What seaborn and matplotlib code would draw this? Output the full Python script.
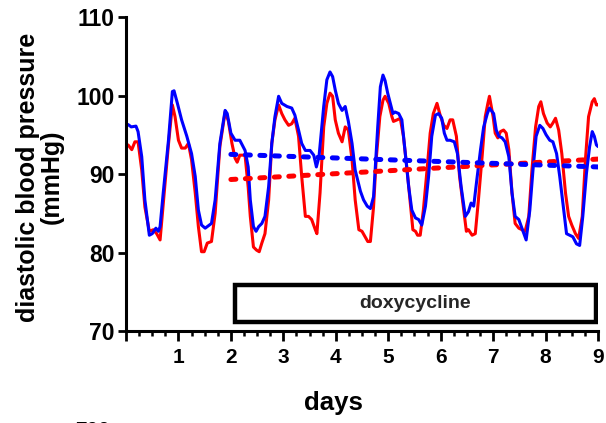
import matplotlib
matplotlib.use("Agg")
import matplotlib.pyplot as plt
from matplotlib.patches import Rectangle
from matplotlib.ticker import MultipleLocator, FixedLocator
import numpy as np
import pandas as pd
import seaborn as sns

# ---- data ----
red_days = [0.04, 0.11, 0.17, 0.23, 0.30, 0.36, 0.445, 0.52, 0.585, 0.65, 0.71, 0.81, 0.884, 0.935,
            1.00, 1.06, 1.13, 1.19, 1.25, 1.32, 1.38, 1.44, 1.49, 1.55, 1.63, 1.70, 1.79, 1.89, 1.95,
            2.02, 2.08, 2.12, 2.17, 2.27, 2.33, 2.37, 2.43, 2.49, 2.54, 2.59, 2.65, 2.72, 2.78, 2.84, 2.91, 2.97,
            3.03, 3.10, 3.16, 3.22, 3.29, 3.35, 3.42, 3.48, 3.54, 3.61, 3.64, 3.70, 3.77, 3.83, 3.89, 3.94, 3.99,
            4.05, 4.12, 4.18, 4.24, 4.31, 4.37, 4.44, 4.50, 4.56, 4.61, 4.66, 4.72, 4.77, 4.84, 4.90, 4.94,
            5.01, 5.07, 5.10, 5.17, 5.23, 5.29, 5.36, 5.42, 5.47, 5.52, 5.56, 5.61, 5.67, 5.74, 5.80, 5.86, 5.93, 5.99,
            6.06, 6.12, 6.18, 6.23, 6.30, 6.36, 6.44, 6.49, 6.53, 6.60, 6.66, 6.72, 6.79, 6.85, 6.90, 6.93,
            7.00, 7.04, 7.09, 7.14, 7.20, 7.25, 7.30, 7.36, 7.42, 7.49, 7.55, 7.61, 7.68, 7.74, 7.81, 7.87, 7.91, 7.96,
            8.03, 8.09, 8.14, 8.19, 8.25, 8.31, 8.38, 8.44, 8.50, 8.57, 8.63, 8.70, 8.76, 8.82, 8.89, 8.93, 8.97, 9.00]
red_bp = [93.7, 93.1, 94.1, 94.1, 90.5, 85.8, 82.7, 82.9, 82.4, 81.6, 86.2, 93.8, 98.8, 97.3,
          94.3, 93.3, 93.3, 93.9, 91.8, 87.6, 83.3, 80.1, 80.1, 81.2, 81.4, 85.0, 93.5, 97.9, 96.8,
          93.9, 92.0, 91.5, 92.4, 92.4, 88.3, 84.6, 80.7, 80.3, 80.1, 81.2, 82.4, 86.7, 93.9, 96.9, 98.8, 97.7,
          96.9, 96.2, 96.4, 97.1, 94.8, 89.7, 84.6, 84.6, 84.2, 82.9, 82.4, 87.6, 96.0, 99.0, 100.3, 99.9, 96.9,
          95.2, 94.1, 96.0, 95.6, 91.8, 86.7, 82.9, 82.7, 82.0, 81.4, 81.4, 85.8, 91.8, 97.3, 99.4, 99.9,
          99.0, 97.3, 96.7, 96.9, 97.1, 94.8, 90.5, 86.3, 82.9, 82.7, 82.2, 82.2, 85.4, 90.5, 95.2, 97.7, 99.0, 97.5,
          96.2, 95.8, 96.9, 96.9, 94.8, 89.7, 85.4, 82.7, 82.9, 82.2, 82.4, 86.7, 92.2, 97.3, 99.0, 99.9,
          97.3, 95.2, 94.6, 95.4, 95.6, 95.2, 93.1, 87.6, 83.7, 83.1, 82.9, 82.7, 84.6, 90.5, 96.0, 98.6, 99.2, 97.7,
          96.5, 96.0, 96.5, 97.1, 95.6, 92.6, 87.6, 84.6, 83.5, 82.4, 81.8, 84.6, 91.8, 97.3, 99.2, 99.6, 98.8, 98.8]

blue_days = [0.04, 0.10, 0.19, 0.23, 0.30, 0.36, 0.445, 0.50, 0.57, 0.617, 0.65, 0.71, 0.81, 0.884, 0.916, 0.98,
             1.06, 1.16, 1.25, 1.32, 1.38, 1.44, 1.51, 1.57, 1.63, 1.70, 1.79, 1.89, 1.93,
             2.00, 2.08, 2.17, 2.27, 2.33, 2.37, 2.43, 2.48, 2.53, 2.59, 2.65, 2.72, 2.78, 2.84, 2.91, 2.97,
             3.07, 3.16, 3.22, 3.29, 3.35, 3.42, 3.51, 3.58, 3.63, 3.68, 3.77, 3.83, 3.89, 3.94, 3.99,
             4.05, 4.12, 4.18, 4.24, 4.31, 4.37, 4.47, 4.53, 4.60, 4.66, 4.72, 4.75, 4.80, 4.85, 4.90, 4.94, 4.99,
             5.04, 5.09, 5.13, 5.20, 5.26, 5.32, 5.39, 5.45, 5.52, 5.58, 5.64, 5.71, 5.77, 5.83, 5.90, 5.96,
             6.02, 6.07, 6.12, 6.18, 6.26, 6.32, 6.39, 6.47, 6.53, 6.58, 6.63, 6.69, 6.76, 6.82, 6.89, 6.93,
             7.01, 7.06, 7.11, 7.17, 7.23, 7.30, 7.36, 7.42, 7.49, 7.55, 7.63, 7.70, 7.76, 7.82, 7.89, 7.95,
             8.01, 8.08, 8.14, 8.21, 8.27, 8.33, 8.40, 8.46, 8.52, 8.59, 8.65, 8.71, 8.78, 8.84, 8.89, 8.93, 8.97, 9.00]
blue_bp = [96.3, 96.0, 96.1, 95.4, 92.2, 86.7, 82.2, 82.4, 83.1, 82.7, 83.3, 87.6, 94.3, 100.5, 100.6, 99.0,
           96.9, 94.8, 92.6, 89.7, 85.4, 83.5, 83.1, 83.4, 83.7, 86.7, 93.9, 98.1, 97.7,
           95.2, 94.3, 94.3, 93.0, 90.9, 86.7, 83.3, 82.7, 83.3, 83.7, 84.6, 88.4, 93.9, 97.3, 99.9, 99.0,
           98.6, 98.4, 97.5, 95.6, 93.9, 93.0, 93.0, 92.4, 90.9, 92.2, 98.6, 102.0, 103.0, 102.4, 100.7,
           99.0, 98.1, 98.6, 96.7, 93.9, 90.5, 87.8, 86.7, 85.9, 85.6, 87.1, 90.5, 96.0, 101.1, 102.6, 101.9, 100.3,
           99.0, 97.7, 97.9, 97.7, 96.9, 93.0, 88.4, 85.4, 84.4, 84.2, 83.5, 85.9, 89.7, 94.8, 97.5, 97.7,
           97.1, 95.2, 94.3, 94.3, 94.1, 92.6, 88.4, 84.6, 85.2, 86.3, 85.9, 89.3, 93.1, 96.0, 97.7, 98.4,
           97.7, 95.6, 94.8, 94.6, 94.1, 92.2, 87.6, 84.6, 84.2, 83.1, 81.6, 85.4, 90.5, 94.8, 96.2, 95.8,
           95.0, 94.3, 94.1, 92.6, 89.7, 86.3, 82.4, 82.2, 82.0, 81.1, 80.9, 84.6, 90.1, 93.5, 95.4, 94.8, 93.7, 93.5]

trend_days = [2.0, 9.0]
red_trend = [89.3, 91.9]
blue_trend = [92.5, 90.9]

drug_label = "doxycycline"
drug_start, drug_end = 2.08, 8.96
drug_low, drug_high = 71.2, 75.9

x_ticks = [0, 1, 2, 3, 4, 5, 6, 7, 8, 9]
x_labels = ["", "1", "2", "3", "4", "5", "6", "7", "8", "9"]
y_ticks = [70, 80, 90, 100, 110]

RED = "#FF0000"
BLUE = "#0000FF"

# ---- style ----
sns.set_theme(style="ticks")
plt.rcParams["font.family"] = ["Liberation Sans", "DejaVu Sans"]
plt.rcParams["font.weight"] = "bold"

fig = plt.figure(figsize=(6.06, 4.23), dpi=100)
ax = fig.add_axes([126 / 606, 92 / 423, 472 / 606, 314 / 423])

df = pd.concat([
    pd.DataFrame({"day": red_days, "bp": red_bp, "group": "red"}),
    pd.DataFrame({"day": blue_days, "bp": blue_bp, "group": "blue"}),
])
sns.lineplot(data=df, x="day", y="bp", hue="group", palette={"red": RED, "blue": BLUE},
             estimator=None, linewidth=2.2, ax=ax, legend=False)

tr = pd.concat([
    pd.DataFrame({"day": trend_days, "bp": red_trend, "group": "red"}),
    pd.DataFrame({"day": trend_days, "bp": blue_trend, "group": "blue"}),
])
sns.lineplot(data=tr, x="day", y="bp", hue="group", palette={"red": RED, "blue": BLUE},
             estimator=None, linewidth=3.6, ax=ax, legend=False,
             dashes=False)
for ln in ax.lines[-2:]:
    ln.set_linestyle((0, (1.0, 1.9)))
    ln.set_dash_capstyle("round")

ax.add_patch(Rectangle((drug_start, drug_low), drug_end - drug_start, drug_high - drug_low,
                       facecolor="white", edgecolor="black", linewidth=3.2, zorder=5))
ax.text((drug_start + drug_end) / 2, (drug_low + drug_high) / 2, drug_label,
        ha="center", va="center", fontsize=14, fontweight="bold", zorder=6)

ax.set_xlim(0, 9)
ax.set_ylim(70, 110)
ax.xaxis.set_major_locator(FixedLocator(x_ticks))
ax.set_xticklabels(x_labels)
ax.xaxis.set_minor_locator(MultipleLocator(0.25))
ax.set_yticks(y_ticks)

for s in ["top", "right"]:
    ax.spines[s].set_visible(False)
for s in ["left", "bottom"]:
    ax.spines[s].set_linewidth(2.2)
    ax.spines[s].set_color("black")

ax.tick_params(axis="x", which="major", length=7, width=2, color="black",
               labelsize=15, pad=5, labelcolor="black")
ax.tick_params(axis="x", which="minor", length=3.5, width=1.8, color="black")
ax.tick_params(axis="y", which="major", length=6, width=2, color="black",
               labelsize=16.5, pad=2, labelcolor="black")
for lab in ax.get_xticklabels() + ax.get_yticklabels():
    lab.set_fontweight("bold")

ax.set_xlabel("days", fontsize=18.5, fontweight="bold", color="black")
ax.xaxis.set_label_coords(0.44, -0.19)
ax.set_ylabel("diastolic blood pressure\n(mmHg)", fontsize=18, fontweight="bold",
              color="black", linespacing=1.0)
ax.yaxis.label.set_va("center")
ax.yaxis.set_label_coords(-0.183, 0.49)

fig.text(92 / 606, 1 - 420.5 / 423, "700", ha="center", va="top",
         fontsize=15, fontweight="bold", color="black")

fig.savefig("out.png", dpi=100, facecolor="white")
